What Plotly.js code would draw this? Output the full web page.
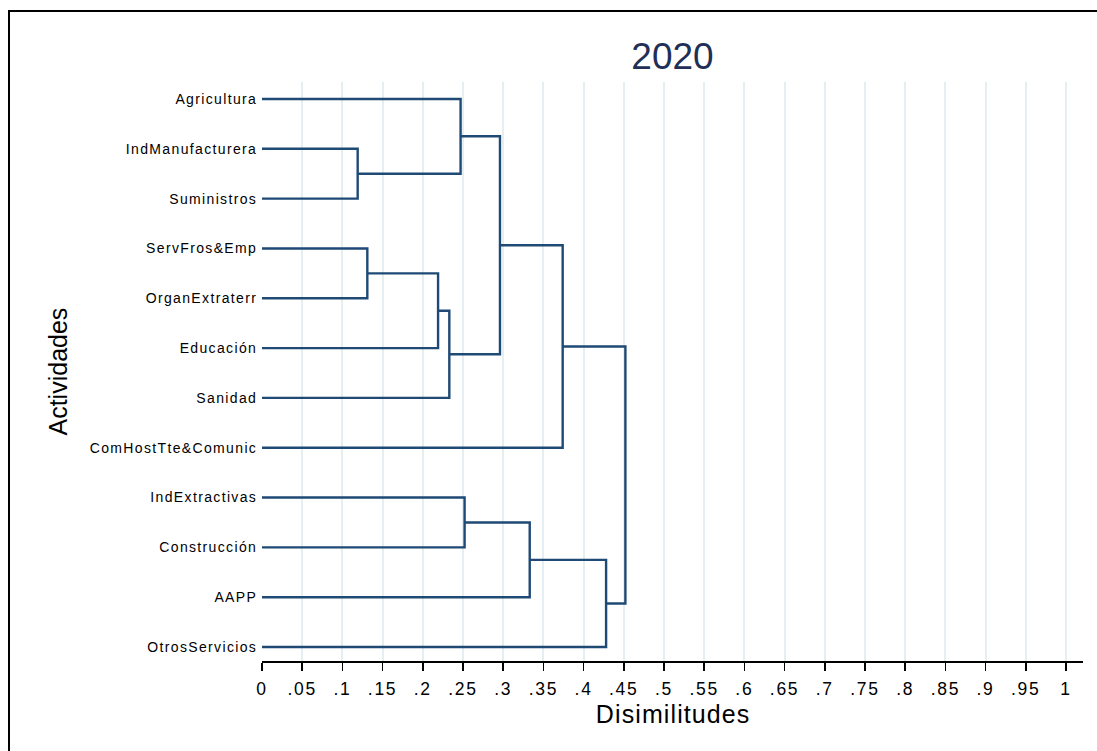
<!DOCTYPE html>
<html>
<head>
<meta charset="utf-8">
<script src="https://cdn.plot.ly/plotly-3.0.1.min.js"></script>
<style>
  html, body { margin: 0; padding: 0; background: #fff; overflow: hidden; }
  #chart { width: 1097px; height: 751px; }
  #frame { position: absolute; left: 8px; top: 10px; width: 1200px; height: 800px;
           border-left: 2px solid #000; border-top: 2px solid #000; pointer-events: none; }
  /* slightly wider text, as in the Stata-style export */
  #chart .ytick text { letter-spacing: 1.35px; }
  #chart .xtick text { letter-spacing: 1.7px; }
  #chart .annotation-text.xttl { letter-spacing: 1.1px; }
</style>
</head>
<body>
<div id="chart"></div>
<div id="frame"></div>
<script>
// Leaves in dendrogram order (top to bottom)
const leaves = [
  "Agricultura", "IndManufacturera", "Suministros", "ServFros&Emp",
  "OrganExtraterr", "Educación", "Sanidad", "ComHostTte&Comunic",
  "IndExtractivas", "Construcción", "AAPP", "OtrosServicios"
];

// Merges: ids below leaves.length are leaves, higher ids are earlier merges
const mergeLeft   = [1, 3, 13, 14, 0, 8, 16, 17, 18, 19, 20];
const mergeRight  = [2, 4, 5, 6, 12, 9, 15, 10, 7, 11, 21];
const mergeHeight = [0.119, 0.131, 0.219, 0.233, 0.247, 0.252, 0.296, 0.333, 0.374, 0.428, 0.452];

// Tick positions along the dissimilarity axis
const tickVals = [0, .05, .1, .15, .2, .25, .3, .35, .4, .45, .5, .55, .6, .65, .7, .75, .8, .85, .9, .95, 1];
const tickText = ["0", ".05", ".1", ".15", ".2", ".25", ".3", ".35", ".4", ".45", ".5", ".55", ".6", ".65", ".7", ".75", ".8", ".85", ".9", ".95", "1"];

const n = leaves.length;
const pos = leaves.map((_, i) => i);
const hgt = leaves.map(() => 0);
const traces = [];
mergeLeft.forEach((a, k) => {
  const b = mergeRight[k], h = mergeHeight[k];
  traces.push({
    type: "scatter", mode: "lines", hoverinfo: "skip", showlegend: false,
    x: [hgt[a], h, h, hgt[b]],
    y: [pos[a], pos[a], pos[b], pos[b]],
    line: { color: "#1f4a75", width: 2.4 }
  });
  pos.push((pos[a] + pos[b]) / 2);
  hgt.push(h);
});

const font = "Liberation Sans, Arial, sans-serif";
const layout = {
  width: 1097, height: 751,
  margin: { l: 262, r: 14, t: 82, b: 90 },
  paper_bgcolor: "#fff", plot_bgcolor: "#fff",
  font: { family: font, color: "#000" },
  title: { text: "2020", x: 0.5, xref: "paper", xanchor: "center", y: 0.925, yanchor: "middle",
           font: { size: 37, color: "#1f2f57", family: font } },
  xaxis: {
    range: [0, 1.0212], tickvals: tickVals, ticktext: tickText,
    showgrid: true, gridcolor: "#e5eef0", gridwidth: 2, zeroline: false,
    showline: true, linecolor: "#000", linewidth: 1.5,
    ticks: "outside", ticklen: 8, tickwidth: 1.5, tickcolor: "#000",
    tickfont: { size: 17.5, color: "#000" }, ticklabelstandoff: 3
  },
  yaxis: {
    range: [11.28, -0.34], tickvals: pos.slice(0, n), ticktext: leaves,
    showgrid: false, zeroline: false, showline: false,
    ticks: "outside", ticklen: 1, tickcolor: "rgba(0,0,0,0)",
    tickfont: { size: 14, color: "#000" }
  },
  annotations: [
    { text: "Disimilitudes", xref: "paper", yref: "paper", x: 0.5, y: -0.0915,
      xanchor: "center", yanchor: "middle", showarrow: false,
      font: { size: 25, color: "#000" }, captureevents: false, name: "xttl" },
    { text: "Actividades", xref: "paper", yref: "paper", x: (57 - 262) / 821, y: 0.5,
      xanchor: "center", yanchor: "middle", textangle: -90, showarrow: false,
      font: { size: 25, color: "#000" } }
  ]
};

Plotly.newPlot("chart", traces, layout, { staticPlot: true }).then(() => {
  // mark the x-axis title annotation so the wider spacing applies to it
  const t = document.querySelectorAll("#chart .annotation-text")[0];
  if (t) t.classList.add("xttl");
});
</script>
</body>
</html>
